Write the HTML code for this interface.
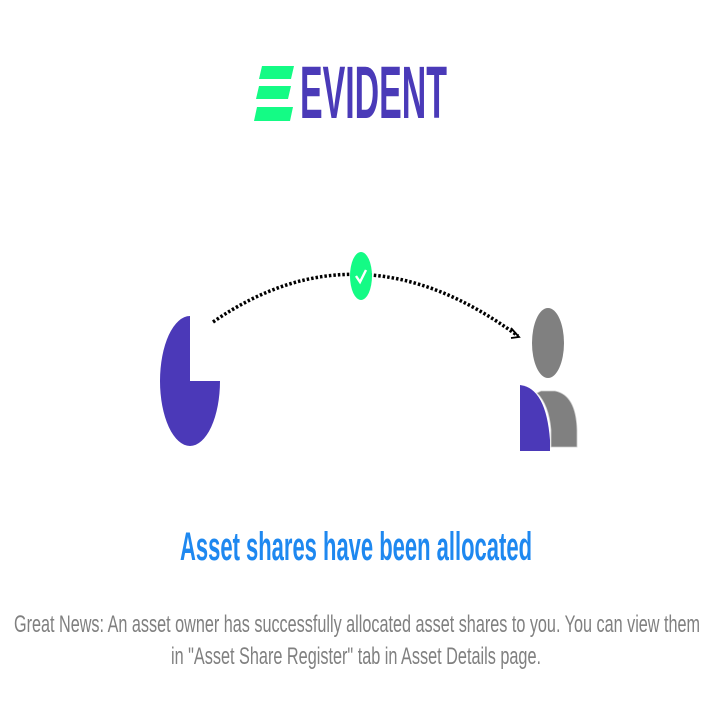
<!DOCTYPE html>
<html><head><meta charset="utf-8"><style>html,body{margin:0;padding:0;background:#fff}svg{display:block}</style></head>
<body>
<svg width="710" height="710" viewBox="0 0 710 710">
  <g>
    <polygon points="262,66 294,66 291,79 259,79" fill="#14fb85"/>
    <polygon points="259,86 291,86 288,99 256,99" fill="#14fb85"/>
    <polygon points="257,107 293,107 290,121 254,121" fill="#14fb85"/>
    <text x="300" y="118" font-family="'Liberation Sans Narrow','Liberation Sans',sans-serif" font-size="74" font-weight="bold" fill="#4a3ab8" textLength="147" lengthAdjust="spacingAndGlyphs">EVIDENT</text>
  </g>
  <path d="M190,316 A30,65 0 1,0 220,381 L190,381 Z" fill="#4b39b8"/>
  <path d="M213,322 Q361,220 518,336" fill="none" stroke="#000" stroke-width="3.5" stroke-dasharray="2.5,2"/>
  <path d="M511,328 L519,337 L511,338" fill="none" stroke="#000" stroke-width="1.8"/>
  <ellipse cx="361" cy="276" rx="11" ry="24" fill="#14fb85"/>
  <path d="M356,276 L360,282 L366,270" fill="none" stroke="#fff" stroke-width="2.4"/>
  <g>
    <ellipse cx="548" cy="343" rx="16" ry="35" fill="#808080"/>
    <path d="M541,391 L555,391 Q576,395 577,430 L577,447 L551,447 L551,430 Q549,405 537,393 Z" fill="#808080" stroke="#ccc" stroke-width="0.8"/>
    <path d="M520,385 Q546,388 550,440 L550,451 L520,451 Z" fill="#4b39b8"/>
  </g>
  <text x="356" y="560" text-anchor="middle" font-family="'Liberation Sans Narrow','Liberation Sans',sans-serif" font-size="40" font-weight="bold" fill="#1e88f0" textLength="352" lengthAdjust="spacingAndGlyphs">Asset shares have been allocated</text>
  <text x="357" y="632" text-anchor="middle" font-family="'Liberation Sans Narrow','Liberation Sans',sans-serif" font-size="24" fill="#808080" textLength="686" lengthAdjust="spacingAndGlyphs">Great News: An asset owner has successfully allocated asset shares to you. You can view them</text>
  <text x="356" y="664" text-anchor="middle" font-family="'Liberation Sans Narrow','Liberation Sans',sans-serif" font-size="24" fill="#808080" textLength="370" lengthAdjust="spacingAndGlyphs">in "Asset Share Register" tab in Asset Details page.</text>
</svg>
</body></html>
